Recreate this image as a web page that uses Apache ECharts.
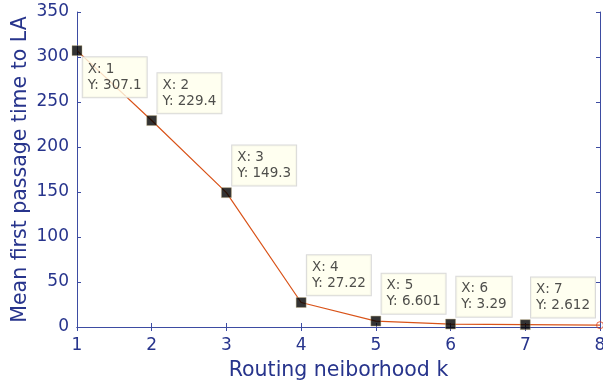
<!DOCTYPE html>
<html><head><meta charset="utf-8">
<script src="https://cdn.jsdelivr.net/npm/echarts@6/dist/echarts.min.js"></script>
<style>html,body{margin:0;padding:0;background:#fff}#c{width:603px;height:387px}</style>
</head><body><div id="c"></div>
<script>
const xValues = [1, 2, 3, 4, 5, 6, 7, 8];
const yValues = [307.1, 229.4, 149.3, 27.22, 6.601, 3.29, 2.612, 2.0];
const tipLabels = ['307.1', '229.4', '149.3', '27.22', '6.601', '3.29', '2.612'];
const xTitle = 'Routing neiborhood k';
const yTitle = 'Mean first passage time to LA';

const axisText = '#27348c';
const axisLine = '#3d4ca2';
const font = 'DejaVu Sans';

const lineData = xValues.map((x, i) => [x, yValues[i]]);
const tipData = tipLabels.map((t, i) => ({
  value: [xValues[i], yValues[i]],
  label: {
    formatter: 'X: ' + xValues[i] + '\nY: ' + t,
    position: i === 0 ? [11, 12] : [11, -2],
    align: 'left',
    verticalAlign: i === 0 ? 'top' : 'bottom'
  }
}));

const chart = echarts.init(document.getElementById('c'), null, {renderer: 'canvas'});
chart.setOption({
  animation: false,
  grid: {left: 77, right: 3, top: 12, bottom: 60, outerBoundsMode: 'none', containLabel: false},
  xAxis: [{
    type: 'value', min: 1, max: 8, interval: 1,
    name: xTitle, nameLocation: 'middle', nameGap: 33, nameMoveOverlap: false,
    nameTextStyle: {color: axisText, fontFamily: font, fontSize: 20.5},
    axisLine: {lineStyle: {color: axisLine, width: 1}},
    axisTick: {inside: true, length: 4, lineStyle: {color: axisLine}},
    axisLabel: {color: axisText, fontFamily: font, fontSize: 17, margin: 10},
    splitLine: {show: false}
  }, {
    type: 'value', min: 1, max: 8, interval: 1, position: 'top',
    axisLine: {show: true, lineStyle: {color: axisLine, width: 1}},
    axisTick: {show: true, inside: true, length: 4, lineStyle: {color: axisLine}},
    axisLabel: {show: false}, splitLine: {show: false}
  }],
  yAxis: [{
    type: 'value', min: 0, max: 350, interval: 50,
    name: yTitle, nameLocation: 'middle', nameGap: 46, nameMoveOverlap: false,
    nameTextStyle: {color: axisText, fontFamily: font, fontSize: 20.5},
    axisLine: {show: true, lineStyle: {color: axisLine, width: 1}},
    axisTick: {show: true, inside: true, length: 4, lineStyle: {color: axisLine}},
    axisLabel: {color: axisText, fontFamily: font, fontSize: 17, margin: 8},
    splitLine: {show: false}
  }, {
    type: 'value', min: 0, max: 350, interval: 50, position: 'right',
    axisLine: {show: true, lineStyle: {color: axisLine, width: 1}},
    axisTick: {show: true, inside: true, length: 4, lineStyle: {color: axisLine}},
    axisLabel: {show: false}, splitLine: {show: false}
  }],
  series: [{
    type: 'line',
    data: lineData,
    symbol: 'none',
    lineStyle: {color: '#d95319', width: 1.2},
    z: 2
  }, {
    type: 'scatter',
    data: [lineData[lineData.length - 1]],
    symbol: 'circle', symbolSize: 7,
    itemStyle: {color: 'rgba(255,255,255,0)', borderColor: '#e0401a', borderWidth: 1},
    z: 3
  }, {
    type: 'scatter',
    data: tipData,
    symbol: 'rect', symbolSize: 10,
    itemStyle: {color: '#000', borderColor: '#c0b080', borderWidth: 0.5},
    label: {
      show: true,
      color: '#222',
      fontFamily: font, fontSize: 13.5, lineHeight: 16,
      backgroundColor: '#ffffec',
      borderColor: '#cfcfcf', borderWidth: 1,
      padding: [4, 5, 4, 5]
    },
    z: 5
  }]
});
</script></body></html>
